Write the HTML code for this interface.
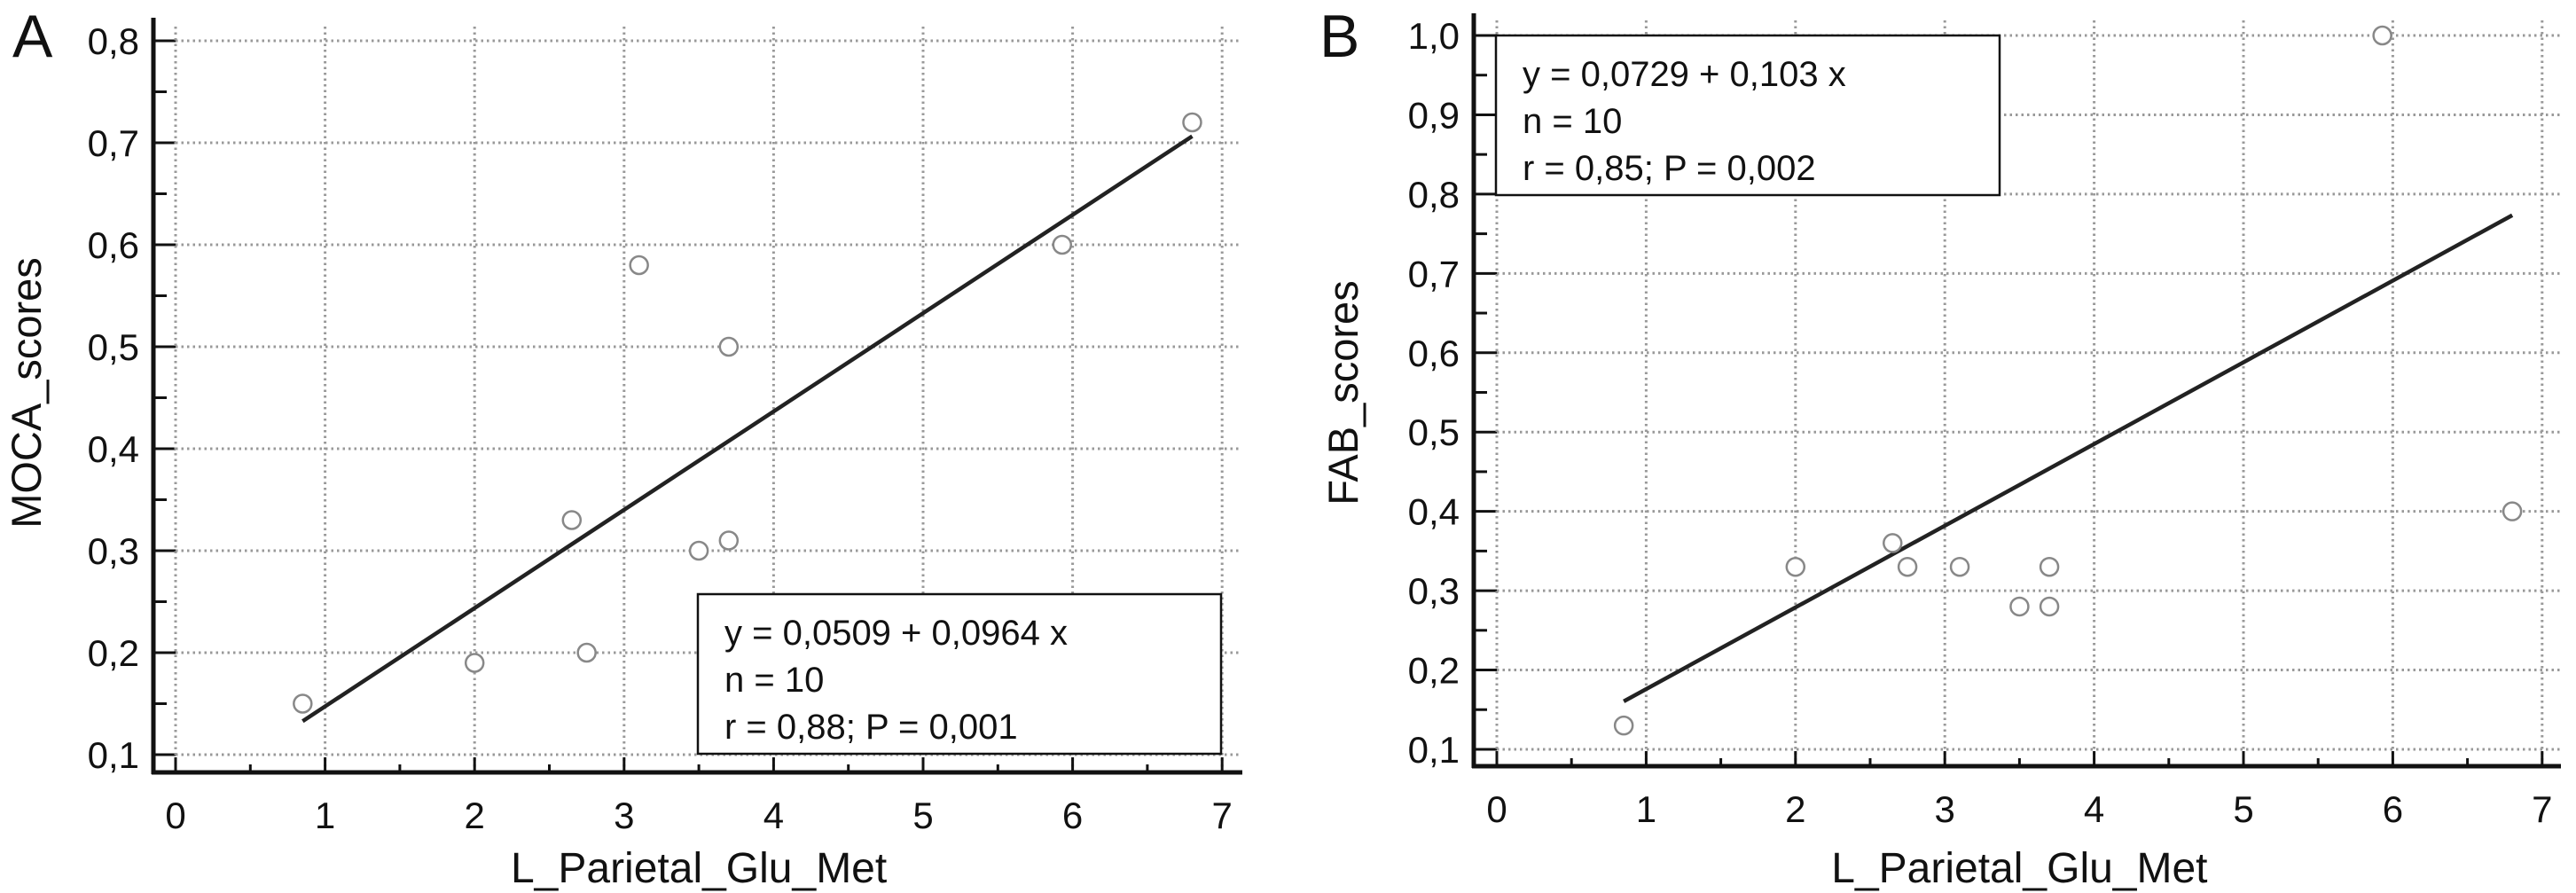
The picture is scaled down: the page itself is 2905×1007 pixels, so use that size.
<!DOCTYPE html>
<html><head><meta charset="utf-8">
<style>
html,body{margin:0;padding:0;background:#fff;}
svg{display:block;font-family:"Liberation Sans",Arial,sans-serif;}
</style></head>
<body>
<svg id="chart" width="2905" height="1007" viewBox="0 0 2905 1007" xmlns="http://www.w3.org/2000/svg"></svg>
<script>
const xTicks = [0,1,2,3,4,5,6,7];
const xTickLabels = ["0","1","2","3","4","5","6","7"];
const xValues = [0.85,2.0,2.65,2.75,3.1,3.5,3.7,3.7,5.93,6.8];
const mocaValues = [0.15,0.19,0.33,0.20,0.58,0.30,0.31,0.50,0.60,0.72];
const fabValues = [0.13,0.33,0.36,0.33,0.33,0.28,0.28,0.33,1.0,0.40];
const mocaTicks = [0.1,0.2,0.3,0.4,0.5,0.6,0.7,0.8];
const mocaTickLabels = ["0,1","0,2","0,3","0,4","0,5","0,6","0,7","0,8"];
const fabTicks = [0.1,0.2,0.3,0.4,0.5,0.6,0.7,0.8,0.9,1.0];
const fabTickLabels = ["0,1","0,2","0,3","0,4","0,5","0,6","0,7","0,8","0,9","1,0"];
const mocaFit = [0.0509,0.0964];
const fabFit = [0.0729,0.103];
const fitRange = [0.85,6.8];
const mocaStats = ["y = 0,0509 + 0,0964 x","n = 10","r = 0,88; P = 0,001"];
const fabStats = ["y = 0,0729 + 0,103 x","n = 10","r = 0,85; P = 0,002"];

const NS="http://www.w3.org/2000/svg";
const svg=document.getElementById('chart');
function mk(tag,attrs,parent,text){
  const e=document.createElementNS(NS,tag);
  for(const k in attrs) e.setAttribute(k,attrs[k]);
  if(text!==undefined) e.textContent=text;
  (parent||svg).appendChild(e);
  return e;
}

function panel(cfg){
  const g=mk('g',{});
  
  
  const X=v=>cfg.x0+(v-0)*cfg.xu;
  const Y=v=>cfg.yTop+(cfg.yMax-v)*cfg.yu;
  cfg.yTicks.forEach((t,i)=>{
    const l=mk('line',{x1:X(0),x2:cfg.gridRight,y1:Y(t),y2:Y(t),stroke:'#999','stroke-width':3,'stroke-dasharray':'2.5 4'},g);
    
    
    const tk=mk('line',{x1:cfg.axisX,x2:X(0),y1:Y(t),y2:Y(t),stroke:'#111','stroke-width':3},g);
    
    
    if(i<cfg.yTicks.length-1){
      const mt=mk('line',{x1:cfg.axisX,x2:cfg.axisX+15,y1:Y(t+0.05),y2:Y(t+0.05),stroke:'#111','stroke-width':3},g);
      
      
    }
    const lb=mk('text',{x:cfg.axisX-16,y:Y(t)+15,'font-size':42,'text-anchor':'end',fill:'#111'},g,cfg.yTickLabels[i]);
    
    
  });
  xTicks.forEach((t,i)=>{
    const l=mk('line',{x1:X(t),x2:X(t),y1:cfg.gridTop,y2:cfg.axisY,stroke:'#999','stroke-width':3,'stroke-dasharray':'2.5 4'},g);
    
    
    const tk=mk('line',{x1:X(t),x2:X(t),y1:cfg.axisY-17,y2:cfg.axisY,stroke:'#111','stroke-width':3},g);
    
    
    if(i<xTicks.length-1){
      const mt=mk('line',{x1:X(t+0.5),x2:X(t+0.5),y1:cfg.axisY-9,y2:cfg.axisY,stroke:'#111','stroke-width':3},g);
      
      
    }
    const lb=mk('text',{x:X(t),y:cfg.axisY+63,'font-size':42,'text-anchor':'middle',fill:'#111'},g,xTickLabels[i]);
    
    
  });
  const ya=mk('line',{x1:cfg.axisX,x2:cfg.axisX,y1:cfg.axisTop,y2:cfg.axisY+2,stroke:'#111','stroke-width':5},g);
  
  
  const xa=mk('line',{x1:cfg.axisX-2,x2:cfg.axisRight,y1:cfg.axisY,y2:cfg.axisY,stroke:'#111','stroke-width':5},g);
  
  
  const lg=mk('g',{},g);
  
  
  mk('rect',{x:cfg.box[0],y:cfg.box[1],width:cfg.box[2]-cfg.box[0],height:cfg.box[3]-cfg.box[1],fill:'#fff',stroke:'#111','stroke-width':2.5},lg);
  cfg.stats.forEach((s,i)=>{
    const t=mk('text',{x:cfg.box[0]+30,y:cfg.box[1]+57+i*53,'font-size':40,fill:'#111'},lg,s);
    
    
  });
  const fl=mk('line',{x1:X(fitRange[0]),y1:Y(cfg.fit[0]+cfg.fit[1]*fitRange[0]),x2:X(fitRange[1]),y2:Y(cfg.fit[0]+cfg.fit[1]*fitRange[1]),stroke:'#222','stroke-width':4.5},g);
  
  
  xValues.forEach((xv,i)=>{
    const c=mk('circle',{cx:X(xv),cy:Y(cfg.yValues[i]),r:10,fill:'#fff',stroke:'#888','stroke-width':2.5},g);
    
    
  });
  const pl=mk('text',{x:cfg.letterX,y:64,'font-size':68,fill:'#111'},g,cfg.letter);
  
  
  const yt=mk('text',{x:0,y:0,'font-size':47,'text-anchor':'middle',fill:'#111',transform:`translate(${cfg.yTitleX},443) rotate(-90)`},g,cfg.yTitle);
  
  
  const xt=mk('text',{x:(X(0)+X(7))/2,y:995,'font-size':48,'text-anchor':'middle',fill:'#111'},g,'L_Parietal_Glu_Met');
  
  
}

panel({name:'panel-a-moca',x0:198,xu:168.6,yTop:46,yMax:0.8,yu:1150,axisX:173,axisY:871,axisTop:20,axisRight:1401,
  gridRight:1397,gridTop:30,yTicks:mocaTicks,yTickLabels:mocaTickLabels,yValues:mocaValues,fit:mocaFit,stats:mocaStats,
  box:[787,670,1377,850],letter:'A',letterX:14,yTitleX:46,yTitle:'MOCA_scores'});
panel({name:'panel-b-fab',x0:1688,xu:168.4,yTop:40,yMax:1.0,yu:894.4,axisX:1662,axisY:864,axisTop:15,axisRight:2888,
  gridRight:2887,gridTop:23,yTicks:fabTicks,yTickLabels:fabTickLabels,yValues:fabValues,fit:fabFit,stats:fabStats,
  box:[1687,40,2255,220],letter:'B',letterX:1488,yTitleX:1531,yTitle:'FAB_scores'});
</script>
</body></html>
